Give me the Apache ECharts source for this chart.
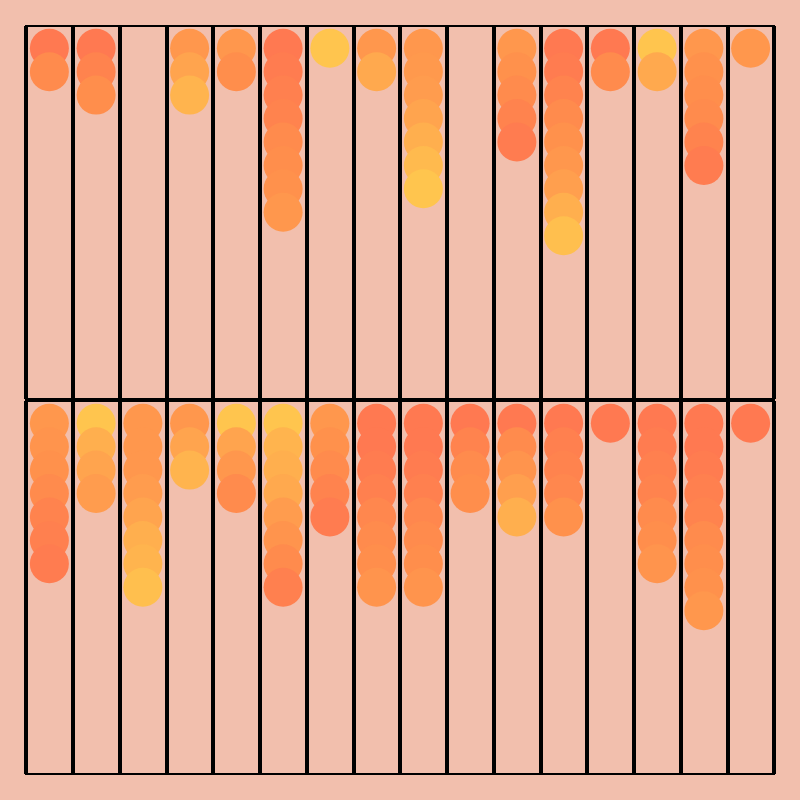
<!DOCTYPE html>
<html>
<head>
<meta charset="utf-8">
<script src="https://cdn.jsdelivr.net/npm/echarts@6/dist/echarts.min.js"></script>
<style>
html,body{margin:0;padding:0;background:#f2bfad;}
#chart{width:800px;height:800px;}
</style>
</head>
<body>
<div id="chart"></div>
<script>
// Column categories (16 columns per row)
const columns = ['1','2','3','4','5','6','7','8','9','10','11','12','13','14','15','16'];

// Colour value (0 = red, 10 = yellow) of each stacked circle, top to bottom, per column
const topRow = [
  [0.5, 3],
  [0.5, 2, 3.5],
  [],
  [5, 7, 8.5],
  [5, 3.5],
  [0.5, 1, 1.5, 2, 3, 3.5, 4, 5],
  [10],
  [5, 7.5],
  [5, 5.5, 6, 7, 8, 9, 10],
  [],
  [5, 4, 3, 2, 1],
  [0.5, 1, 2, 3, 4, 5, 6.5, 8, 9.5],
  [0.5, 3],
  [10, 7.5],
  [5, 4, 3.5, 3, 2, 1],
  [5]
];
const bottomRow = [
  [5, 4.5, 4, 3, 2, 1.5, 1],
  [10, 8, 7, 6],
  [5, 5, 5, 6, 7, 8, 8.5, 9.5],
  [5, 7, 8.5],
  [10, 7, 5, 3],
  [10, 8.5, 8, 7.5, 6, 4.5, 3, 1.5],
  [5, 4, 3, 2, 1],
  [0.5, 0.5, 1, 1.5, 2.5, 3, 3.5, 4.5],
  [0.5, 0.5, 1, 1.5, 2.5, 3, 3.5, 4.5],
  [0.5, 2, 3, 3.5],
  [0.5, 3, 4.5, 6.5, 8],
  [0.5, 1.5, 2, 2.5, 4],
  [0.5],
  [0.5, 1, 1.5, 2, 3, 3.5, 4.5],
  [0.5, 0.5, 1, 1.5, 2, 3, 3.5, 4, 5],
  [0.5]
];

function toPoints(row) {
  const pts = [];
  row.forEach((col, ci) => col.forEach((v, ri) => pts.push([ci, ri, v])));
  return pts;
}

const chart = echarts.init(document.getElementById('chart'), null, {renderer: 'canvas'});

function xAxisFor(gi) {
  return {
    type: 'category', gridIndex: gi, data: columns, boundaryGap: true,
    axisLine: {show: false}, axisTick: {show: false}, axisLabel: {show: false},
    splitLine: {show: true, lineStyle: {color: '#000', width: 4}}
  };
}
function yAxisFor(gi) {
  return {
    type: 'value', gridIndex: gi, inverse: true, min: -0.95, max: 14.97,
    axisLine: {show: false}, axisTick: {show: false}, axisLabel: {show: false},
    splitLine: {show: false}
  };
}

chart.setOption({
  backgroundColor: '#f2bfad',
  animation: false,
  grid: [
    {left: 26, top: 26, width: 748, height: 373, show: true, borderColor: '#000', borderWidth: 2, backgroundColor: 'transparent'},
    {left: 26, top: 401, width: 748, height: 373, show: true, borderColor: '#000', borderWidth: 2, backgroundColor: 'transparent'}
  ],
  xAxis: [xAxisFor(0), xAxisFor(1)],
  yAxis: [yAxisFor(0), yAxisFor(1)],
  visualMap: {
    show: false, type: 'continuous', dimension: 2, min: 0, max: 10,
    seriesIndex: [0, 1],
    inRange: {color: ['#ff7552', '#ff8d4c', '#ffa04e', '#ffc54e']}
  },
  series: [
    {type: 'scatter', xAxisIndex: 0, yAxisIndex: 0, symbolSize: 39, data: toPoints(topRow), itemStyle: {opacity: 1}},
    {type: 'scatter', xAxisIndex: 1, yAxisIndex: 1, symbolSize: 39, data: toPoints(bottomRow), itemStyle: {opacity: 1}}
  ]
});
</script>
</body>
</html>
